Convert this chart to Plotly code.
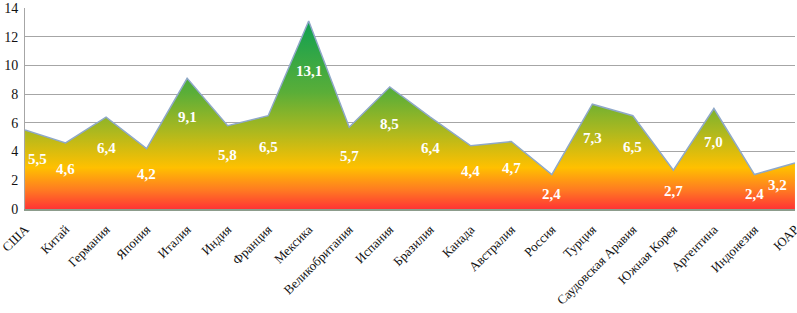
import plotly.graph_objects as go

countries = ["США", "Китай", "Германия", "Япония", "Италия", "Индия", "Франция", "Мексика",
             "Великобритания", "Испания", "Бразилия", "Канада", "Австралия", "Россия", "Турция",
             "Саудовская Аравия", "Южная Корея", "Аргентина", "Индонезия", "ЮАР"]
values = [5.5, 4.6, 6.4, 4.2, 9.1, 5.8, 6.5, 13.1, 5.7, 8.5, 6.4, 4.4, 4.7, 2.4, 7.3,
          6.5, 2.7, 7.0, 2.4, 3.2]
y_ticks = [0, 2, 4, 6, 8, 10, 12, 14]

SERIF = "Liberation Serif, Times New Roman, serif"
xs = list(range(len(countries)))

fig = go.Figure()
fig.add_trace(go.Scatter(
    x=xs, y=values, mode="lines", fill="tozeroy",
    line=dict(color="#8FA8C8", width=1.5),
    fillgradient=dict(
        type="vertical",
        start=0, stop=max(values),
        colorscale=[[0.0, "#FF3434"], [0.1, "#FF7A22"], [0.22, "#FFC000"],
                    [0.42, "#A9B820"], [0.62, "#5AAE38"], [1.0, "#0FA052"]],
    ),
    hoverinfo="skip", showlegend=False,
))

n = len(values)
for i, v in enumerate(values):
    anchor = "center"
    xshift = 0
    if i == 0:
        anchor, xshift = "left", 1
    elif i == n - 1:
        anchor, xshift = "right", -6
    fig.add_annotation(
        x=i, y=v * 0.8 - 0.9, text=f"{v:.1f}".replace(".", ","),
        showarrow=False, xanchor=anchor, yanchor="middle", xshift=xshift,
        font=dict(family=SERIF, size=15, color="white", weight="bold"),
    )

fig.update_layout(
    width=797, height=313,
    margin=dict(l=25, r=2, t=8, b=104),
    paper_bgcolor="white", plot_bgcolor="white",
    xaxis=dict(
        tickmode="array", tickvals=xs, ticktext=countries, tickangle=-45,
        range=[-0.001, n - 1 + 0.001], showgrid=False, zeroline=False,
        showline=True, linecolor="#8C9C8C", linewidth=1.5,
        tickfont=dict(family=SERIF, size=13, color="#111"),
        ticks="", ticklen=0, automargin=False, ticklabeloverflow="allow",
        ticklabelstandoff=6,
    ),
    yaxis=dict(
        range=[0, 14], tickvals=y_ticks, showgrid=True, gridcolor="#A6A6A6", gridwidth=1,
        zeroline=False, showline=True, linecolor="#A6A6A6", linewidth=1,
        tickfont=dict(family=SERIF, size=14, color="#111"), ticks="",
        automargin=False, ticklabelstandoff=3,
    ),
)

fig.write_html("out.html", config={"displayModeBar": False},
               post_script="document.body.style.margin='0';")
